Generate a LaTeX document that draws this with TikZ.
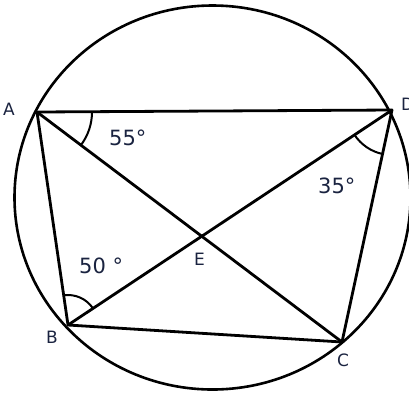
\documentclass[tikz,border=0pt]{standalone}
\usepackage{fontspec}
\setmainfont{DejaVu Sans}
\definecolor{LabelInk}{HTML}{1A2340}
\usetikzlibrary{angles,calc}

\begin{document}
\begin{tikzpicture}[
  x=1pt, y=1pt,
  rim/.style={line width=2.6pt},
  chord/.style={line width=2.8pt,line join=round},
  anglemark/.style={draw,line width=2pt},
  ptlabel/.style={inner sep=0pt,anchor=base west,text=LabelInk,font=\fontsize{17}{20}\selectfont},
  deglabel/.style={inner sep=0pt,anchor=base west,text=LabelInk,font=\fontsize{21}{24}\selectfont}]
\useasboundingbox (0,0) rectangle (409,-392);
% vertices of the cyclic quadrilateral
\coordinate (A) at (37,-112);
\coordinate (D) at (392,-110);
\coordinate (B) at (68,-325);
\coordinate (C) at (342,-342);
\coordinate (E) at (intersection of A--C and B--D);
\coordinate (O) at (212.5,-197.5);
% circle (drawn a little wider than tall, as in the figure)
\draw[rim] (O) ellipse [x radius=198, y radius=192];
% sides and diagonals
\draw[chord] (A) -- (D) -- (C) -- (B) -- cycle;
\draw[chord] (A) -- (C);
\draw[chord] (B) -- (D);
% angle marks
\pic[anglemark, angle radius=55pt] {angle = C--A--D};
\pic[anglemark, angle radius=45pt] {angle = B--D--C};
\pic[anglemark, angle radius=30pt] {angle = D--B--A};
% labels
\node[ptlabel] (labA) at (3,-115) {A};
\node[ptlabel] (labD) at (401,-110) {D};
\node[ptlabel] (labB) at (46,-343) {B};
\node[ptlabel] (labC) at (337,-366) {C};
\node[ptlabel] (labE) at (194,-265) {E};
\node[deglabel] (ang55) at (109,-145) {55°};
\node[deglabel] (ang35) at (318,-193) {35°};
\node[deglabel] (ang50) at (79,-273) {50 °};
\end{tikzpicture}
\end{document}
